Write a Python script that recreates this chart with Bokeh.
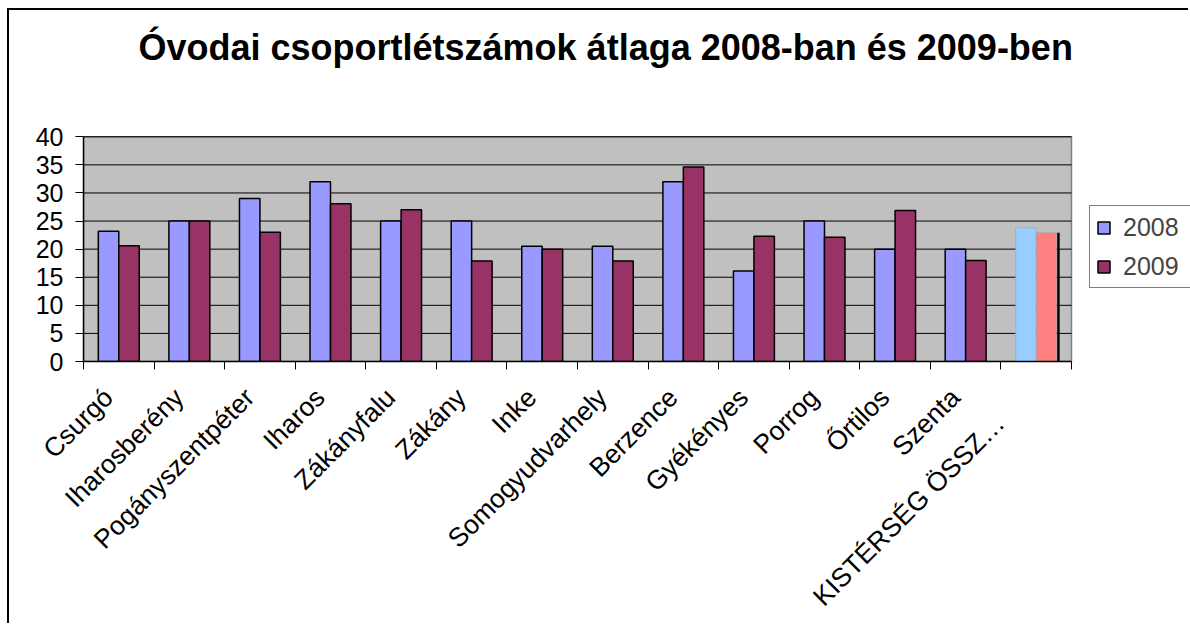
import math
from bokeh.plotting import figure
from bokeh.models import (ColumnDataSource, FixedTicker, Legend, LegendItem, Label)
from bokeh.embed import file_html
from bokeh.resources import INLINE

categories = ["Csurgó", "Iharosberény", "Pogányszentpéter", "Iharos", "Zákányfalu",
              "Zákány", "Inke", "Somogyudvarhely", "Berzence", "Gyékényes",
              "Porrog", "Őrtilos", "Szenta", "KISTÉRSÉG ÖSSZ…"]
v2008 = [23.2, 25, 29, 32, 25, 25, 20.5, 20.5, 32, 16.1, 25, 20, 20, 23.8]
v2009 = [20.6, 25, 23, 28.1, 27, 17.9, 20, 17.9, 34.6, 22.3, 22.1, 26.9, 18, 22.9]
y_ticks = [0, 5, 10, 15, 20, 25, 30, 35, 40]
title_text = "Óvodai csoportlétszámok átlaga 2008-ban és 2009-ben"
series_names = ["2008", "2009"]

FONT = "Liberation Sans"
BW = 0.29
n = len(categories)
main_n = n - 1
ymax = max(y_ticks)

# layout (pixels)
W, H = 1181, 615
LEFT, BOTTOM = 74, 262
PLOT_W, PLOT_H = 988, 226          # grey plotting area
FRAME_W, FRAME_H = W - LEFT, H - BOTTOM

centers = [i + 0.5 for i in range(n)]
src_main = ColumnDataSource(dict(
    x08=[c - BW / 2 for c in centers[:main_n]],
    x09=[c + BW / 2 for c in centers[:main_n]],
    y08=v2008[:main_n], y09=v2009[:main_n]))
src_tot = ColumnDataSource(dict(
    x08=[c - BW / 2 for c in centers[main_n:]],
    x09=[c + BW / 2 for c in centers[main_n:]],
    xe=[c + BW + 0.025 for c in centers[main_n:]],
    y08=v2008[main_n:], y09=v2009[main_n:], y0=[0] * (n - main_n)))
src_grid = ColumnDataSource(dict(y=y_ticks[1:], x0=[0] * (len(y_ticks) - 1),
                                 x1=[n] * (len(y_ticks) - 1)))

p = figure(width=W, height=H,
           x_range=(0, n * FRAME_W / PLOT_W), y_range=(0, ymax * FRAME_H / PLOT_H),
           output_backend="svg", toolbar_location=None,
           min_border_left=LEFT, min_border_right=0,
           min_border_top=0, min_border_bottom=BOTTOM)
p.styles = {"border-left": "2px solid black", "border-top": "2px solid black",
            "margin-left": "7px", "margin-top": "8px"}
p.background_fill_color = "white"
p.border_fill_color = "white"
p.outline_line_color = None
p.xgrid.visible = False
p.ygrid.visible = False

# grey plot area and gridlines
p.quad(left=0, right=n, bottom=0, top=ymax, fill_color="#C0C0C0",
       line_color="#808080", line_width=1.5)
p.segment(x0="x0", y0="y", x1="x1", y1="y", source=src_grid,
          line_color="black", line_width=1)

r08 = p.vbar(x="x08", top="y08", width=BW, source=src_main,
             fill_color="#9999FF", line_color="black", line_width=1.5)
r09 = p.vbar(x="x09", top="y09", width=BW, source=src_main,
             fill_color="#993366", line_color="black", line_width=1.5)
p.vbar(x="x08", top="y08", width=BW, source=src_tot,
       fill_color="#99CCFF", line_color="#A0A0A0", line_width=1, line_dash="1 1")
p.vbar(x="x09", top="y09", width=BW, source=src_tot,
       fill_color="#FF8080", line_color="#A0A0A0", line_width=1, line_dash="1 1")
p.segment(x0="xe", y0="y0", x1="xe", y1="y09", source=src_tot,
          line_color="black", line_width=2.5)

# y axis
p.yaxis.bounds = (0, ymax)
p.yaxis.ticker = FixedTicker(ticks=y_ticks)
p.yaxis.axis_line_color = "black"
p.yaxis.axis_line_width = 1.5
p.yaxis.major_tick_line_color = "black"
p.yaxis.major_tick_out = 8
p.yaxis.major_tick_in = 0
p.yaxis.minor_tick_line_color = None
p.yaxis.major_label_text_font = FONT
p.yaxis.major_label_text_font_size = "25px"
p.yaxis.major_label_text_color = "black"
p.yaxis.major_label_standoff = 12

# x axis
NB = "\u00a0"
x_labels = [lab + NB * 2 for lab in categories[:-1]] + [categories[-1] + NB * 7]
p.xaxis.bounds = (0, n)
p.xaxis.ticker = FixedTicker(ticks=centers, minor_ticks=list(range(n + 1)))
p.xaxis.major_label_overrides = {c: lab for c, lab in zip(centers, x_labels)}
p.xaxis.major_label_orientation = math.pi / 4
p.xaxis.major_label_text_font = FONT
p.xaxis.major_label_text_font_size = "26.5px"
p.xaxis.major_label_text_color = "black"
p.xaxis.major_label_standoff = 13
p.xaxis.major_tick_line_color = None
p.xaxis.minor_tick_line_color = "black"
p.xaxis.minor_tick_out = 8
p.xaxis.minor_tick_in = 0
p.xaxis.axis_line_color = "black"
p.xaxis.axis_line_width = 1.5

# title (inside the enlarged frame, above the grey area)
p.add_layout(Label(x=55, y=314, x_units="screen", y_units="screen", text=title_text,
                   text_font=FONT, text_font_size="36px", text_font_style="bold",
                   text_align="left", text_baseline="alphabetic", text_color="black"))

legend = Legend(items=[LegendItem(label=series_names[0], renderers=[r08]),
                       LegendItem(label=series_names[1], renderers=[r09])],
                location=(1006, 73))
legend.label_text_font = FONT
legend.label_text_font_size = "25px"
legend.glyph_width = 15
legend.glyph_height = 15
legend.label_height = 30
legend.label_width = 80
legend.label_standoff = 12
legend.spacing = 9
legend.padding = 6
legend.margin = 0
legend.border_line_color = "black"
legend.border_line_width = 1
legend.background_fill_color = "white"
legend.background_fill_alpha = 1
p.add_layout(legend, "center")

open("out.html", "w").write(file_html(p, INLINE))
